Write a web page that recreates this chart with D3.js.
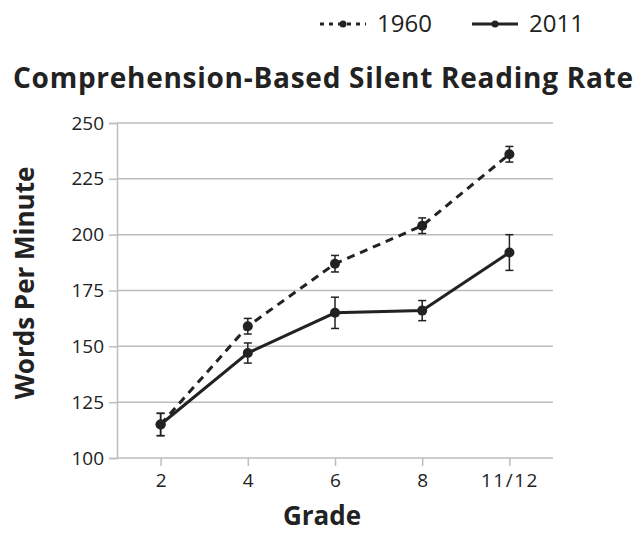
<!DOCTYPE html>
<html>
<head>
<meta charset="utf-8">
<script src="https://cdn.jsdelivr.net/npm/d3@7"></script>
<style>
  body { margin: 0; background: #fff; }
  svg text { font-family: "Open Sans", "DejaVu Sans", sans-serif; fill: #222; }
</style>
</head>
<body>
<svg id="chart" width="644" height="533"></svg>
<script>
// data
var grades = ["2", "4", "6", "8", "11/12"];
var rate1960 = [115, 159, 187, 204, 236];
var err1960 = [5, 3.5, 3.7, 3.5, 3.5];
var rate2011 = [115, 147, 165, 166, 192];
var err2011 = [5, 4.5, 7, 4.5, 8];
var yTicks = [100, 125, 150, 175, 200, 225, 250];

var series = [
  { name: "1960", values: rate1960, err: err1960, dash: "8,6" },
  { name: "2011", values: rate2011, err: err2011, dash: null }
];

var svg = d3.select("#chart"),
  margin = { top: 123, left: 117, bottom: 75, right: 91 },
  width = +svg.attr("width"),
  height = +svg.attr("height");

var x = d3.scalePoint().domain(grades)
  .range([margin.left, width - margin.right])
  .padding(0.5);

var y = d3.scaleLinear().domain([100, 250])
  .range([height - margin.bottom, margin.top]);

// gridlines
svg.append("g").selectAll("line")
  .data(yTicks)
  .enter().append("line")
  .attr("x1", margin.left)
  .attr("x2", width - margin.right)
  .attr("y1", d => y(d))
  .attr("y2", d => y(d))
  .attr("stroke", "#bdbdbd")
  .attr("stroke-width", 1.5);

// y axis
var yAxis = svg.append("g")
  .attr("transform", `translate(${margin.left},0)`)
  .call(d3.axisLeft(y).tickValues(yTicks).tickSize(8).tickPadding(5));
yAxis.select(".domain").attr("stroke", "#bdbdbd").attr("stroke-width", 1.5);
yAxis.selectAll(".tick line").attr("stroke", "#bdbdbd").attr("stroke-width", 1.5);
yAxis.selectAll("text").style("font-size", "19px").attr("fill", "#222");

// x axis
var xAxis = svg.append("g")
  .attr("transform", `translate(0,${height - margin.bottom})`)
  .call(d3.axisBottom(x).tickSize(8).tickPadding(8).tickSizeOuter(0));
xAxis.select(".domain").remove();
xAxis.selectAll(".tick line").attr("stroke", "#bdbdbd").attr("stroke-width", 1.5);
xAxis.selectAll("text").style("font-size", "19px").attr("fill", "#222")
  .style("letter-spacing", d => d.length > 2 ? "1.5px" : null);

// lines
var line = d3.line()
  .x((d, i) => x(grades[i]))
  .y(d => y(d));

var g = svg.selectAll("g.series")
  .data(series)
  .enter().append("g")
  .attr("class", "series");

g.append("path")
  .attr("d", d => line(d.values))
  .attr("fill", "none")
  .attr("stroke", "#222")
  .attr("stroke-width", 3)
  .attr("stroke-dasharray", d => d.dash);

// error bars
g.each(function (s) {
  var eb = d3.select(this).selectAll("g.err")
    .data(s.values.map((v, i) => ({ g: grades[i], v: v, e: s.err[i] })))
    .enter().append("g")
    .attr("class", "err")
    .attr("stroke", "#222")
    .attr("stroke-width", 1.5);
  eb.append("line")
    .attr("x1", d => x(d.g)).attr("x2", d => x(d.g))
    .attr("y1", d => y(d.v - d.e)).attr("y2", d => y(d.v + d.e));
  eb.append("line")
    .attr("x1", d => x(d.g) - 4).attr("x2", d => x(d.g) + 4)
    .attr("y1", d => y(d.v + d.e)).attr("y2", d => y(d.v + d.e));
  eb.append("line")
    .attr("x1", d => x(d.g) - 4).attr("x2", d => x(d.g) + 4)
    .attr("y1", d => y(d.v - d.e)).attr("y2", d => y(d.v - d.e));
  d3.select(this).selectAll("circle")
    .data(s.values)
    .enter().append("circle")
    .attr("cx", (d, i) => x(grades[i]))
    .attr("cy", d => y(d))
    .attr("r", 5)
    .attr("fill", "#222");
});

// title and axis labels
svg.append("text")
  .attr("x", 323).attr("y", 88)
  .attr("text-anchor", "middle")
  .attr("textLength", 620)
  .attr("lengthAdjust", "spacing")
  .style("font-size", "28px").style("font-weight", "700")
  .text("Comprehension-Based Silent Reading Rate");

svg.append("text")
  .attr("x", 322).attr("y", 525)
  .attr("text-anchor", "middle")
  .style("font-size", "26px").style("font-weight", "700")
  .text("Grade");

svg.append("text")
  .attr("transform", "translate(34,283) rotate(-90)")
  .attr("text-anchor", "middle")
  .style("font-size", "26px").style("font-weight", "700")
  .text("Words Per Minute");

// legend
var legend = svg.selectAll("g.legend")
  .data(series)
  .enter().append("g")
  .attr("class", "legend")
  .attr("transform", (d, i) => `translate(${320 + i * 152},24)`);

legend.append("line")
  .attr("x1", 0).attr("x2", 46)
  .attr("stroke", "#222").attr("stroke-width", 3)
  .attr("stroke-dasharray", d => d.dash ? "4,5" : null);
legend.append("circle")
  .attr("cx", 23).attr("r", 3.5).attr("fill", "#222");
legend.append("text")
  .attr("x", 57).attr("y", 8)
  .style("font-size", "24px")
  .text(d => d.name);
</script>
</body>
</html>
